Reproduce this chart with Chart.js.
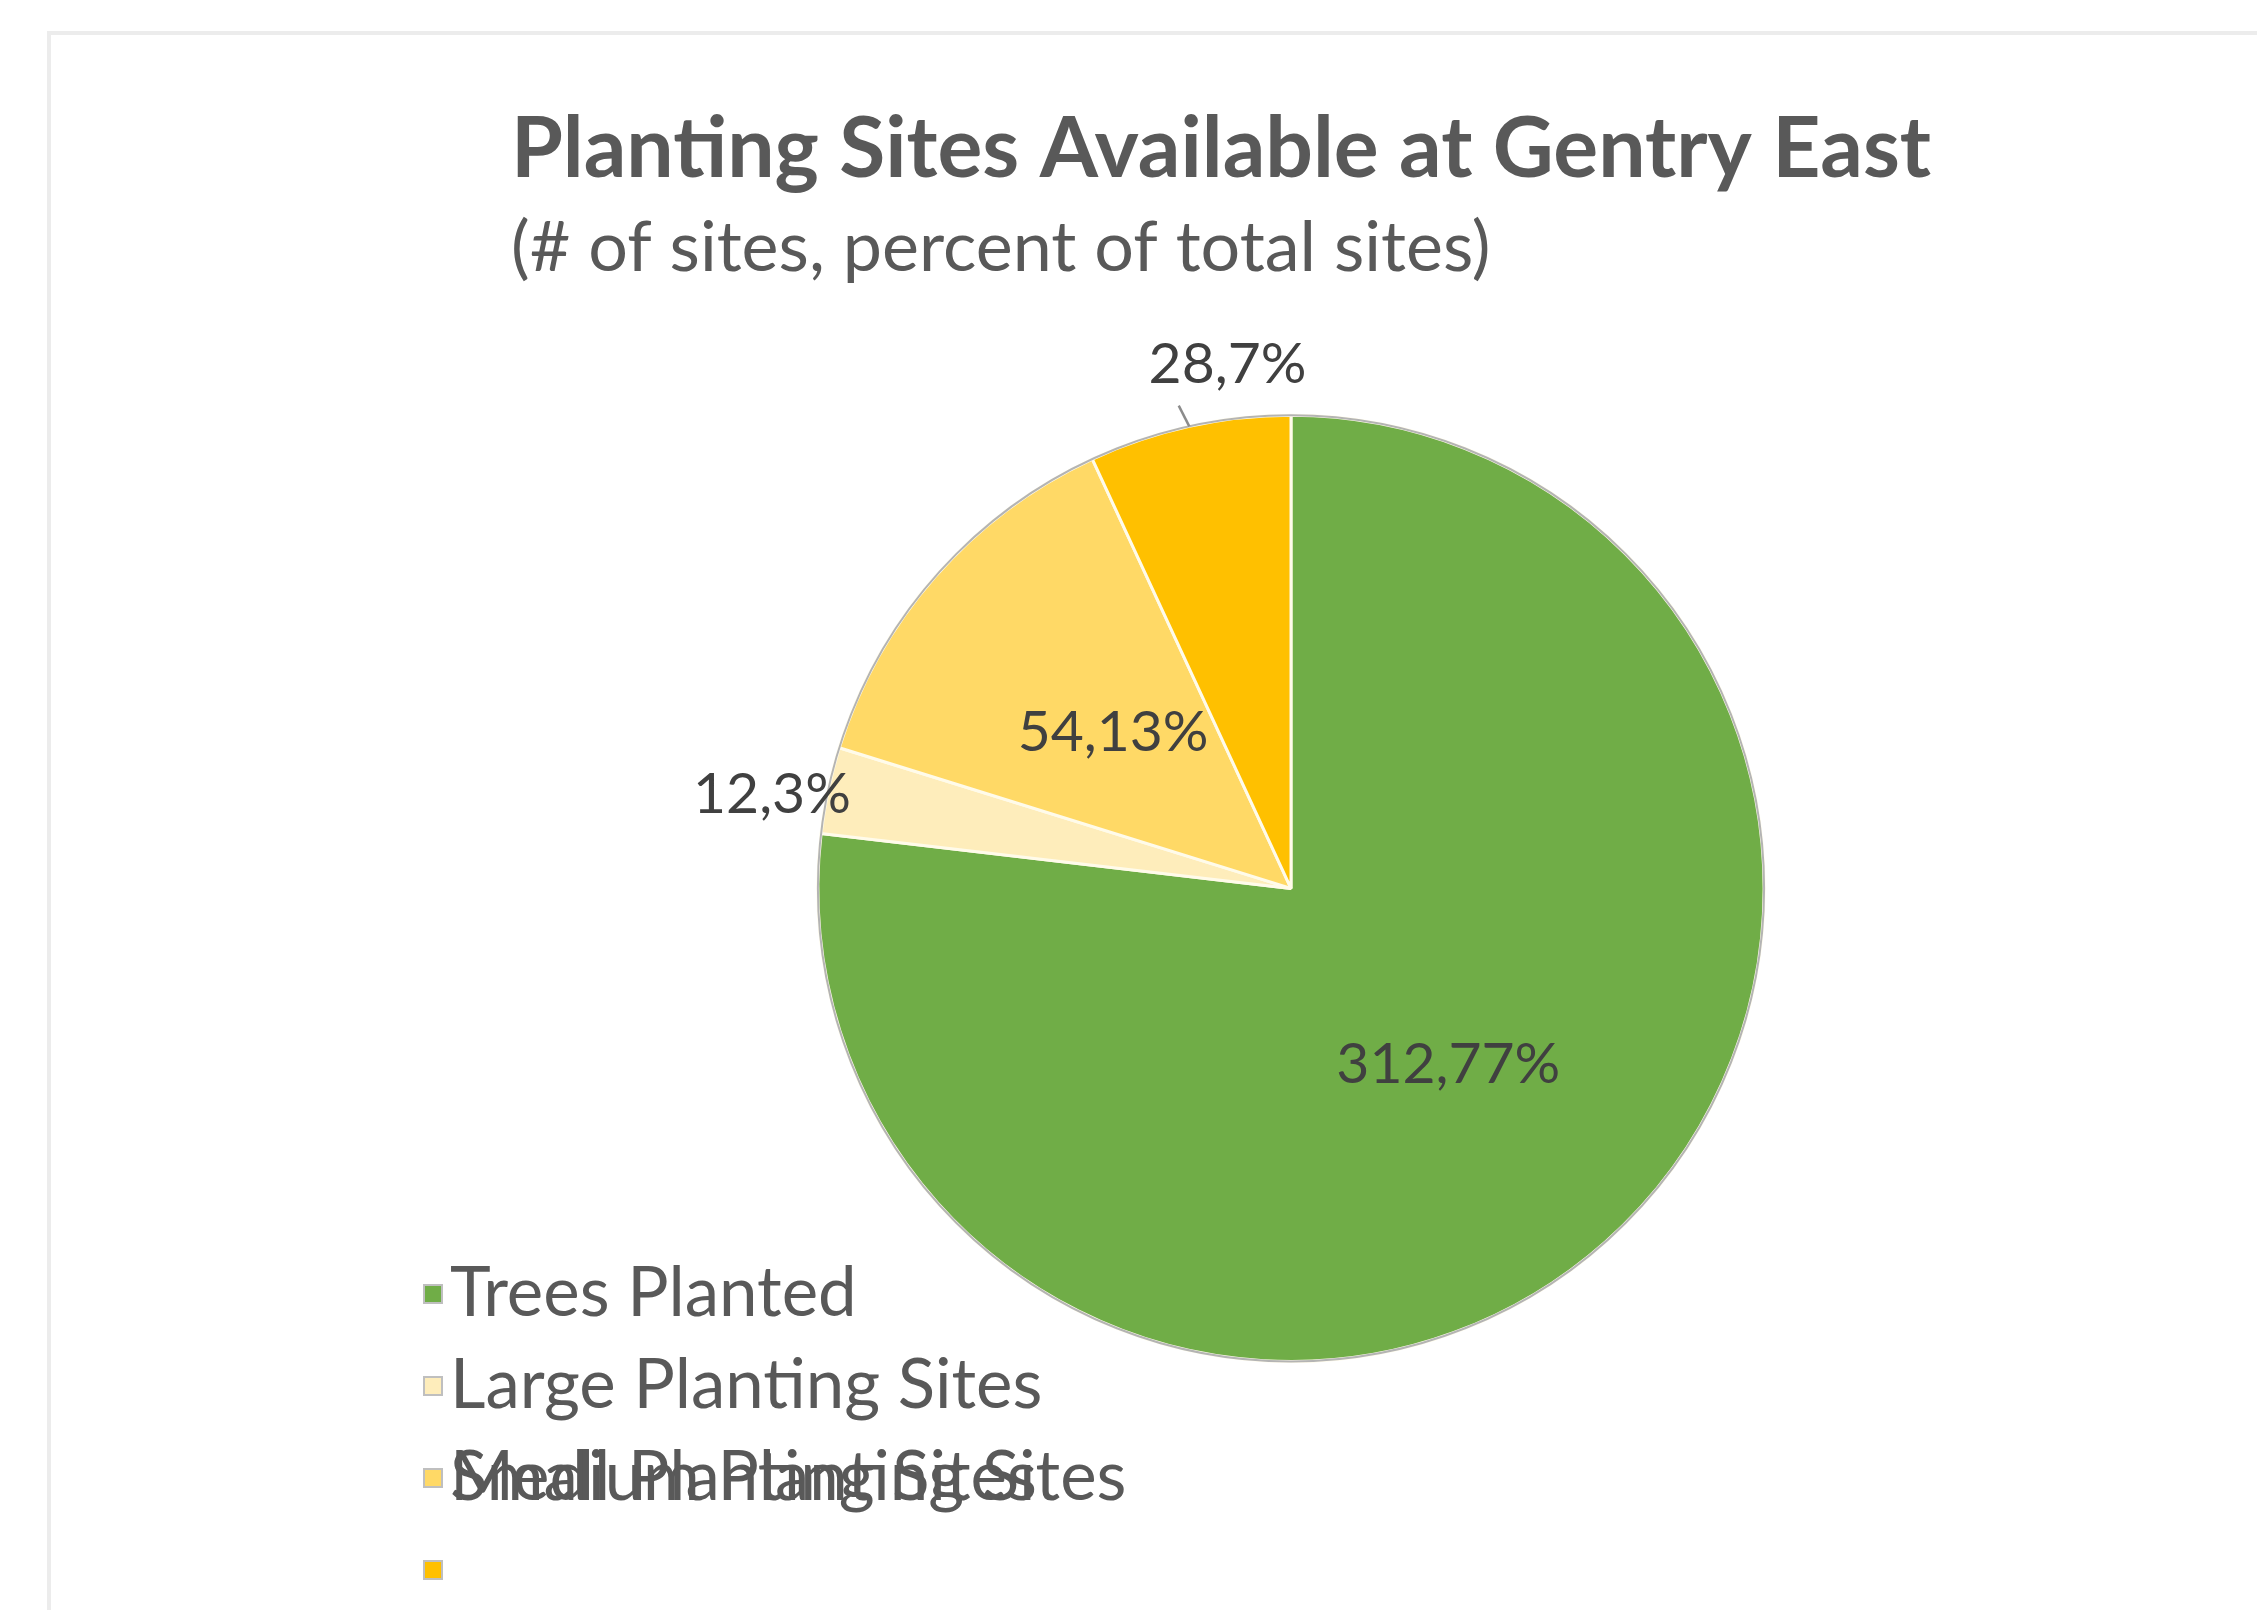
<!DOCTYPE html>
<html>
<head>
<meta charset="utf-8">
<title>Planting Sites Available at Gentry East</title>
<script src="https://cdn.jsdelivr.net/npm/chart.js@4.4.1/dist/chart.umd.min.js"></script>
<style>
  html, body { margin: 0; padding: 0; background: #fff; }
  #wrap { position: relative; width: 2257px; height: 1610px; overflow: hidden; }
  #card { position: absolute; left: 47px; top: 31px; width: 2400px; height: 1800px; border: 4px solid #ececec; box-sizing: border-box; }
  #chart { position: absolute; left: 0; top: 0; }
</style>
</head>
<body>
<div id="wrap">
  <div id="card"></div>
  <canvas id="chart" width="2257" height="1610"></canvas>
</div>
<script>
// data
const categories = ["Trees Planted", "Large Planting Sites", "Medium Planting Sites", "Small Planting Sites"];
const siteCounts = [312, 12, 54, 28];
const sliceColors = ["#70AD47", "#FEEDBB", "#FFD966", "#FFC000"];
const titleText = "Planting Sites Available at Gentry East";
const subtitleText = "(# of sites, percent of total sites)";

const FONT = "Lato, 'Open Sans', sans-serif";
const TEXT = "#595959";

// "value,percent%" labels, inside for big slices and outside for thin ones
const sliceLabels = {
  id: "sliceLabels",
  afterDatasetsDraw(chart, args, opts) {
    const ctx = chart.ctx;
    const meta = chart.getDatasetMeta(0);
    const vals = chart.data.datasets[0].data;
    const total = vals.reduce((a, v) => a + v, 0);
    ctx.save();
    // thin grey rim round the pie
    const first = meta.data[0];
    ctx.beginPath();
    ctx.arc(first.x, first.y, first.outerRadius, 0, Math.PI * 2);
    ctx.strokeStyle = "#b4b4b4";
    ctx.lineWidth = 2;
    ctx.stroke();

    ctx.font = opts.font;
    ctx.fillStyle = "#404040";
    ctx.textAlign = "center";
    ctx.textBaseline = "middle";
    meta.data.forEach((arc, i) => {
      const share = vals[i] / total;
      const mid = (arc.startAngle + arc.endAngle) / 2;
      const inside = share > 0.1;
      const a = mid + (opts.nudge[i] || 0);
      const r = arc.outerRadius * (inside ? 0.5 : 1.115);
      const tx = arc.x + Math.cos(a) * r;
      const ty = arc.y + Math.sin(a) * r;
      if (opts.leader[i]) {
        ctx.beginPath();
        ctx.moveTo(arc.x + Math.cos(mid) * arc.outerRadius, arc.y + Math.sin(mid) * arc.outerRadius);
        ctx.lineTo(arc.x + Math.cos(mid) * arc.outerRadius * 1.045 - 6, arc.y + Math.sin(mid) * arc.outerRadius * 1.045);
        ctx.strokeStyle = "#8c8c8c";
        ctx.lineWidth = 2.5;
        ctx.stroke();
      }
      ctx.fillText(vals[i] + "," + Math.round(share * 100) + "%", tx, ty);
    });
    ctx.restore();
  }
};

// legend in the lower left, drawn the way the original shows it
// (the last entry's text lands on the third row and its own row stays empty)
const cornerLegend = {
  id: "cornerLegend",
  afterDraw(chart, args, opts) {
    const ctx = chart.ctx;
    const ds = chart.data.datasets[0];
    ctx.save();
    ctx.font = opts.font;
    ctx.textAlign = "left";
    ctx.textBaseline = "middle";
    chart.data.labels.forEach((lab, i) => {
      const y = opts.top + i * opts.rowGap;
      ctx.fillStyle = ds.backgroundColor[i];
      ctx.fillRect(opts.left, y - opts.box / 2, opts.box, opts.box);
      ctx.strokeStyle = "#bfbfbf";
      ctx.lineWidth = 2;
      ctx.strokeRect(opts.left, y - opts.box / 2, opts.box, opts.box);
      const ty = opts.top + opts.textRow[i] * opts.rowGap;
      ctx.fillStyle = TEXT;
      ctx.fillText(lab, opts.left + opts.box + 8, ty);
    });
    ctx.restore();
  }
};

new Chart(document.getElementById("chart"), {
  type: "pie",
  data: {
    labels: categories,
    datasets: [{
      data: siteCounts,
      backgroundColor: sliceColors,
      borderColor: "#fffbea",
      borderWidth: 3,
      offset: 0,
      hoverOffset: 0
    }]
  },
  options: {
    responsive: false,
    animation: false,
    events: [],
    layout: { padding: { left: 511, right: 186, top: 0, bottom: 247 } },
    plugins: {
      legend: { display: false },
      tooltip: { enabled: false },
      title: {
        display: true,
        text: titleText,
        align: "start",
        color: TEXT,
        font: { family: FONT, size: 84, weight: "bold", lineHeight: 1.2 },
        padding: { top: 100, bottom: 0 }
      },
      subtitle: {
        display: true,
        text: subtitleText,
        align: "start",
        color: TEXT,
        font: { family: FONT, size: 70, weight: "normal", lineHeight: 1.2 },
        padding: { top: 6, bottom: 123 }
      },
      sliceLabels: {
        font: "57px " + FONT,
        nudge: [0, -0.03, 0, 0.096],
        leader: [false, false, false, true]
      },
      cornerLegend: {
        font: "69px " + FONT,
        left: 424,
        top: 1294,
        rowGap: 92,
        box: 18,
        textRow: [0, 1, 2, 2]
      }
    }
  },
  plugins: [sliceLabels, cornerLegend]
});
</script>
</body>
</html>
